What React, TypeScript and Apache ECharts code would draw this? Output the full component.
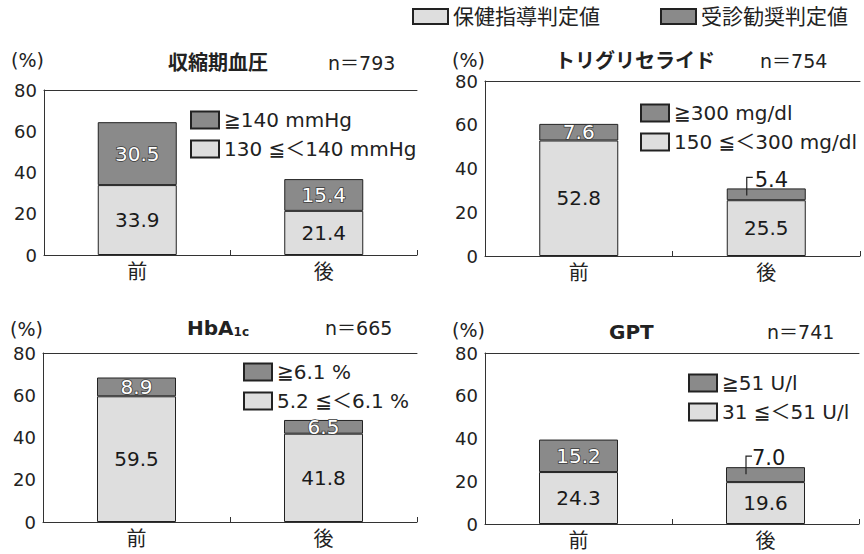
import React, { useEffect, useRef } from "react";
import * as echarts from "echarts";

const categories = ["前", "後"];
const topLegendNames = ["保健指導判定値", "受診勧奨判定値"];

const bpGuidance = [33.9, 21.4];
const bpReferral = [30.5, 15.4];
const bpLegend = ["≧140 mmHg", "130 ≦＜140 mmHg"];

const tgGuidance = [52.8, 25.5];
const tgReferral = [7.6, 5.4];
const tgLegend = ["≧300 mg/dl", "150 ≦＜300 mg/dl"];

const hbGuidance = [59.5, 41.8];
const hbReferral = [8.9, 6.5];
const hbLegend = ["≧6.1 %", "5.2 ≦＜6.1 %"];

const gptGuidance = [24.3, 19.6];
const gptReferral = [15.2, 7.0];
const gptLegend = ["≧51 U/l", "31 ≦＜51 U/l"];

const yMin = 0;
const yMax = 80;
const yInterval = 20;

const FONT = "'DejaVu Sans', 'Noto Sans CJK JP', sans-serif";
const LIGHT = "#dedede";
const DARK = "#8a8a8a";
const EDGE = "#222";
const BAR_W = 79;

type Panel = {
  title: string;
  n: string;
  guidance: number[];
  referral: number[];
  legend: string[];
  grid: { left: number; top: number; width: number; height: number };
  nameGap: number;
  legendPos: { left: number; top: number };
  titlePos: [number, number];
  nPos: [number, number];
  callout?: { index: number; dx: number; dy: number };
};

const panels: Panel[] = [
  {
    title: "収縮期血圧",
    n: "n＝793",
    guidance: bpGuidance,
    referral: bpReferral,
    legend: bpLegend,
    grid: { left: 44, top: 90, width: 373, height: 165 },
    nameGap: 30,
    legendPos: { left: 190, top: 110 },
    titlePos: [168, 64],
    nPos: [328, 64],
  },
  {
    title: "トリグリセライド",
    n: "n＝754",
    guidance: tgGuidance,
    referral: tgReferral,
    legend: tgLegend,
    grid: { left: 485, top: 81, width: 375, height: 175 },
    nameGap: 21,
    legendPos: { left: 640, top: 103 },
    titlePos: [555, 62],
    nPos: [760, 62],
    callout: { index: 1, dx: 28, dy: -8 },
  },
  {
    title: "HbA",
    n: "n＝665",
    guidance: hbGuidance,
    referral: hbReferral,
    legend: hbLegend,
    grid: { left: 43, top: 353, width: 374, height: 169 },
    nameGap: 24,
    legendPos: { left: 243, top: 362 },
    titlePos: [187, 329],
    nPos: [325, 329],
  },
  {
    title: "GPT",
    n: "n＝741",
    guidance: gptGuidance,
    referral: gptReferral,
    legend: gptLegend,
    grid: { left: 485, top: 353, width: 374, height: 171 },
    nameGap: 23,
    legendPos: { left: 688, top: 373 },
    titlePos: [609, 333],
    nPos: [767, 333],
    callout: { index: 1, dx: 26, dy: -9 },
  },
];

function buildOption() {
  const grids: any[] = [];
  const xAxes: any[] = [];
  const yAxes: any[] = [];
  const series: any[] = [];
  const legends: any[] = [];
  const graphics: any[] = [];

  panels.forEach((p, i) => {
    grids.push({ ...p.grid, containLabel: false });
    xAxes.push({
      type: "category",
      gridIndex: i,
      data: categories,
      axisLine: { lineStyle: { color: "#333", width: 1 } },
      axisTick: { show: true, inside: true, length: 5, lineStyle: { color: "#333" } },
      axisLabel: { fontSize: 20, color: "#222", margin: 7, fontFamily: FONT },
    });
    xAxes.push({
      type: "category",
      gridIndex: i,
      position: "top",
      data: categories,
      axisLine: { lineStyle: { color: "#333", width: 1 } },
      axisTick: { show: false },
      axisLabel: { show: false },
    });
    yAxes.push({
      type: "value",
      gridIndex: i,
      min: yMin,
      max: yMax,
      interval: yInterval,
      name: "(%)",
      nameLocation: "end",
      nameGap: p.nameGap,
      nameTextStyle: {
        fontSize: 19,
        color: "#222",
        align: "right",
        verticalAlign: "middle",
        fontFamily: FONT,
      },
      axisLine: { show: true, lineStyle: { color: "#333", width: 1 } },
      axisTick: { show: false },
      splitLine: { show: false },
      axisLabel: { fontSize: 18, color: "#222", margin: 7, fontFamily: FONT },
    });

    const xIdx = i * 2;
    series.push({
      name: p.legend[1],
      type: "bar",
      xAxisIndex: xIdx,
      yAxisIndex: i,
      stack: "s" + i,
      barWidth: BAR_W,
      data: p.guidance,
      itemStyle: { color: LIGHT, borderColor: EDGE, borderWidth: 1 },
      label: {
        show: true,
        position: "inside",
        fontSize: 20,
        color: "#1a1a1a",
        fontFamily: FONT,
        formatter: (d: any) => Number(d.value).toFixed(1),
      },
    });
    series.push({
      name: p.legend[0],
      type: "bar",
      xAxisIndex: xIdx,
      yAxisIndex: i,
      stack: "s" + i,
      barWidth: BAR_W,
      data: p.referral.map((v, k) =>
        p.callout && p.callout.index === k
          ? {
              value: v,
              label: {
                position: [p.callout.dx, p.callout.dy],
                align: "left",
                verticalAlign: "middle",
                fontSize: 21,
                color: "#1a1a1a",
                textBorderWidth: 0,
              },
            }
          : v
      ),
      itemStyle: { color: DARK, borderColor: EDGE, borderWidth: 1 },
      label: {
        show: true,
        position: "inside",
        fontSize: 20,
        color: "#ffffff",
        textBorderColor: "#3a3a3a",
        textBorderWidth: 1.5,
        fontFamily: FONT,
        formatter: (d: any) => Number(d.value).toFixed(1),
      },
    });

    if (p.callout) {
      const k = p.callout.index;
      series.push({
        name: "callout" + i,
        type: "custom",
        xAxisIndex: xIdx,
        yAxisIndex: i,
        silent: true,
        z: 5,
        data: [[k, p.guidance[k] + p.referral[k]]],
        renderItem: (_params: any, api: any) => {
          const pt = api.coord([api.value(0), api.value(1)]);
          const left = pt[0] - BAR_W / 2;
          return {
            type: "polyline",
            shape: {
              points: [
                [left + 20, pt[1] + 7],
                [left + 20, pt[1] - 11],
                [left + 26, pt[1] - 11],
              ],
            },
            style: { stroke: "#222", lineWidth: 1.2, fill: "none" },
          };
        },
      });
    }

    legends.push({
      show: true,
      orient: "vertical",
      left: p.legendPos.left,
      top: p.legendPos.top,
      padding: 0,
      itemWidth: 28,
      itemHeight: 17,
      itemGap: 9,
      icon: "rect",
      selectedMode: false,
      data: [p.legend[0], p.legend[1]],
      textStyle: { fontSize: 20, color: "#222", fontFamily: FONT },
    });

    graphics.push({
      type: "text",
      left: p.titlePos[0],
      top: p.titlePos[1] - 11,
      style:
        i === 2
          ? {
              text: "{a|HbA}{b|1c}",
              rich: {
                a: { fontSize: 20, fontWeight: "bold", fontFamily: FONT, fill: "#222" },
                b: {
                  fontSize: 12,
                  fontWeight: "bold",
                  fontFamily: FONT,
                  fill: "#222",
                  verticalAlign: "bottom",
                  padding: [6, 0, 0, 0],
                },
              },
            }
          : {
              text: p.title,
              fontSize: 20,
              fontWeight: "bold",
              fontFamily: FONT,
              fill: "#222",
            },
    });
    graphics.push({
      type: "text",
      left: p.nPos[0],
      top: p.nPos[1] - 11,
      style: { text: p.n, fontSize: 19, fontFamily: FONT, fill: "#222" },
    });
  });

  // empty series that only feed the shared top legend
  series.push({
    name: topLegendNames[0],
    type: "bar",
    xAxisIndex: 0,
    yAxisIndex: 0,
    stack: "s0",
    data: [],
    itemStyle: { color: LIGHT, borderColor: EDGE, borderWidth: 1 },
  });
  series.push({
    name: topLegendNames[1],
    type: "bar",
    xAxisIndex: 0,
    yAxisIndex: 0,
    stack: "s0",
    data: [],
    itemStyle: { color: DARK, borderColor: EDGE, borderWidth: 1 },
  });
  legends.push({
    show: true,
    orient: "horizontal",
    left: 412,
    top: 6,
    padding: 0,
    itemWidth: 35,
    itemHeight: 15,
    itemGap: 60,
    icon: "rect",
    selectedMode: false,
    data: topLegendNames,
    textStyle: { fontSize: 21, color: "#222", fontFamily: FONT },
  });

  return {
    animation: false,
    backgroundColor: "#ffffff",
    textStyle: { fontFamily: FONT },
    grid: grids,
    xAxis: xAxes,
    yAxis: yAxes,
    legend: legends,
    series,
    graphic: graphics,
  };
}

export default function App() {
  const ref = useRef<HTMLDivElement>(null);
  useEffect(() => {
    if (!ref.current) return;
    const chart = echarts.init(ref.current, undefined, { renderer: "svg" });
    chart.setOption(buildOption() as any);
    return () => chart.dispose();
  }, []);
  return (
    <div
      ref={ref}
      style={{ position: "fixed", left: 0, top: 0, width: 864, height: 554, background: "#fff" }}
    />
  );
}
